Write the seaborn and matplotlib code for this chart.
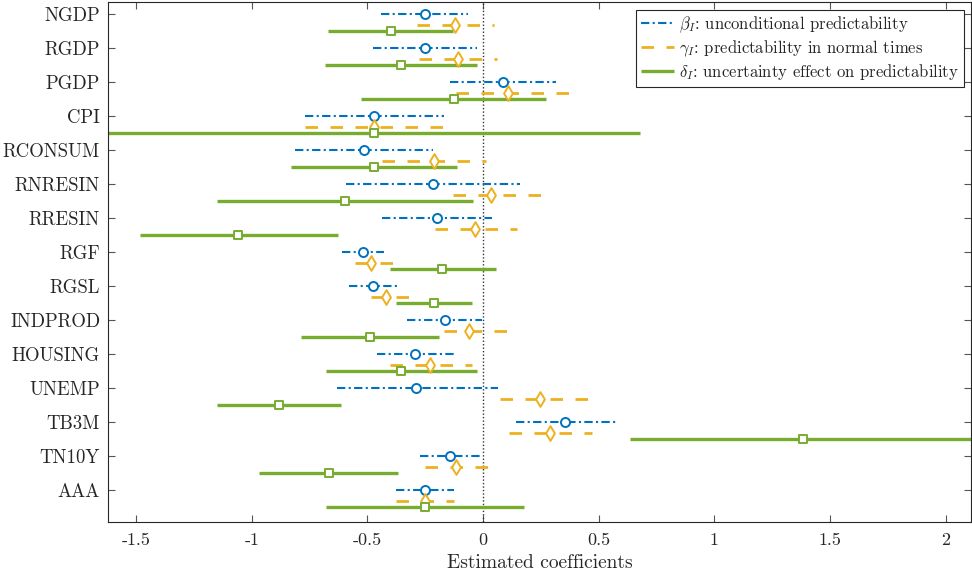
import warnings
warnings.filterwarnings("ignore")

import numpy as np
import pandas as pd
import matplotlib
matplotlib.use("Agg")
import matplotlib.pyplot as plt
from matplotlib.ticker import FuncFormatter
import seaborn as sns

# Data
categories = ["NGDP", "RGDP", "PGDP", "CPI", "RCONSUM", "RNRESIN", "RRESIN", "RGF",
              "RGSL", "INDPROD", "HOUSING", "UNEMP", "TB3M", "TN10Y", "AAA"]

beta_est = [-0.253, -0.253, 0.087, -0.471, -0.514, -0.218, -0.200, -0.521,
            -0.475, -0.166, -0.293, -0.290, 0.353, -0.141, -0.253]
beta_lo = [-0.440, -0.477, -0.141, -0.770, -0.813, -0.593, -0.436, -0.610,
           -0.579, -0.328, -0.459, -0.633, 0.143, -0.272, -0.376]
beta_hi = [-0.064, -0.025, 0.317, -0.170, -0.218, 0.158, 0.039, -0.430,
           -0.367, -0.004, -0.127, 0.066, 0.573, -0.006, -0.127]

gamma_est = [-0.122, -0.110, 0.106, -0.471, -0.214, 0.033, -0.033, -0.485,
             -0.421, -0.060, -0.230, 0.245, 0.290, -0.118, -0.253]
gamma_lo = [-0.286, -0.276, -0.118, -0.770, -0.436, -0.131, -0.208, -0.552,
            -0.483, -0.170, -0.402, 0.071, 0.110, -0.251, -0.376]
gamma_hi = [0.048, 0.062, 0.380, -0.170, 0.014, 0.251, 0.145, -0.388,
            -0.320, 0.106, -0.050, 0.458, 0.473, 0.023, -0.127]

delta_est = [-0.400, -0.357, -0.127, -0.471, -0.471, -0.598, -1.058, -0.176,
             -0.212, -0.490, -0.357, -0.882, 1.382, -0.668, -0.253]
delta_lo = [-0.672, -0.683, -0.527, -1.620, -0.832, -1.150, -1.483, -0.402,
            -0.376, -0.786, -0.681, -1.149, 0.637, -0.969, -0.681]
delta_hi = [-0.131, -0.025, 0.272, 0.680, -0.112, -0.044, -0.629, 0.056,
            -0.048, -0.189, -0.025, -0.616, 2.130, -0.369, 0.178]

labels = [r"$\beta_I$: unconditional predictability",
          r"$\gamma_I$: predictability in normal times",
          r"$\delta_I$: uncertainty effect on predictability"]

sns.set_style("ticks")
plt.rcParams["font.family"] = ["cmr10", "DejaVu Serif"]
plt.rcParams["mathtext.fontset"] = "cm"
plt.rcParams["axes.unicode_minus"] = False

pos = np.arange(len(categories))
series = [
    (beta_est, beta_lo, beta_hi, pos, "#0072BD", (0, (4, 1.6, 1, 1.6)), 1.5, "o", 6.5),
    (gamma_est, gamma_lo, gamma_hi, pos + 0.33, "#EDB120", (0, (4.5, 4.5)), 2.0, "d", 7.5),
    (delta_est, delta_lo, delta_hi, pos + 0.5, "#77AC30", "-", 2.4, "s", 5.5),
]

fig = plt.figure(figsize=(9.72, 5.79), dpi=100)
ax = fig.add_axes([0.1116, 0.0985, 0.8874, 0.8980])

ax.axvline(0, color="#333333", linestyle=(0, (1, 1.5)), linewidth=1.0, zorder=1)

for (est, lo, hi, y, color, ls, lw, marker, ms), label in zip(series, labels):
    ax.hlines(y, lo, hi, colors=color, linestyles=ls, linewidth=lw, label=label, zorder=2)
    df = pd.DataFrame({"est": est, "y": y})
    sns.scatterplot(data=df, x="est", y="y", marker=marker, s=ms ** 2,
                    facecolor="white", edgecolor=color, linewidth=1.4,
                    ax=ax, legend=False, zorder=3)

ax.set_xlim(-1.62, 2.11)
ax.set_ylim(14.94, -0.34)
ax.set_yticks(pos)
ax.set_yticklabels(categories, fontsize=13.5)
ax.set_xticks([-1.5, -1, -0.5, 0, 0.5, 1, 1.5, 2])
ax.xaxis.set_major_formatter(FuncFormatter(lambda v, p: "%g" % v))
ax.tick_params(axis="x", labelsize=13, pad=8)
ax.tick_params(axis="y", pad=6)
ax.tick_params(direction="in", top=True, right=True, length=5, color="#555555")
ax.set_xlabel("Estimated coefficients", fontsize=14, labelpad=4)
ax.set_ylabel("")
for s in ax.spines.values():
    s.set_color("#262626")
    s.set_linewidth(0.8)

leg = ax.legend(loc="upper right", fontsize=12, frameon=True, fancybox=False,
                framealpha=1, edgecolor="#262626", borderaxespad=0.45,
                handlelength=2.0, handletextpad=0.25, borderpad=0.3, labelspacing=0.2)
leg.get_frame().set_linewidth(0.8)

fig.savefig("out.png", dpi=100)
